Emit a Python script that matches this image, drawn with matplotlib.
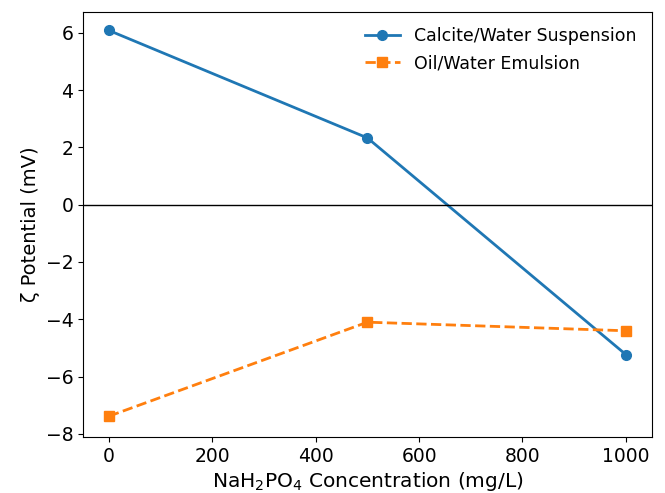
import matplotlib.pyplot as plt

conc = [0, 500, 1000]
calcite = [6.08, 2.33, -5.23]
oil = [-7.38, -4.1, -4.4]

fig = plt.figure(figsize=(6.65, 4.93), dpi=100)
ax = fig.add_axes([0.125, 0.114, 0.855, 0.862])

ax.plot(conc, calcite, marker='o', linestyle='-', linewidth=2, markersize=7,
        color='#1f77b4', label='Calcite/Water Suspension')
ax.plot(conc, oil, marker='s', linestyle='--', linewidth=2, markersize=7,
        color='#ff7f0e', label='Oil/Water Emulsion')
ax.axhline(0, color='black', linewidth=1)

ax.set_xlabel('NaH$_2$PO$_4$ Concentration (mg/L)', fontsize=14.5, labelpad=3)
ax.set_ylabel('ζ Potential (mV)', fontsize=14, labelpad=4)
ax.tick_params(labelsize=13.5)
ax.set_ylim(-8.1, 6.73)
ax.legend(frameon=False, fontsize=12.5, loc='upper right')

fig.savefig('out.png', dpi=100)
